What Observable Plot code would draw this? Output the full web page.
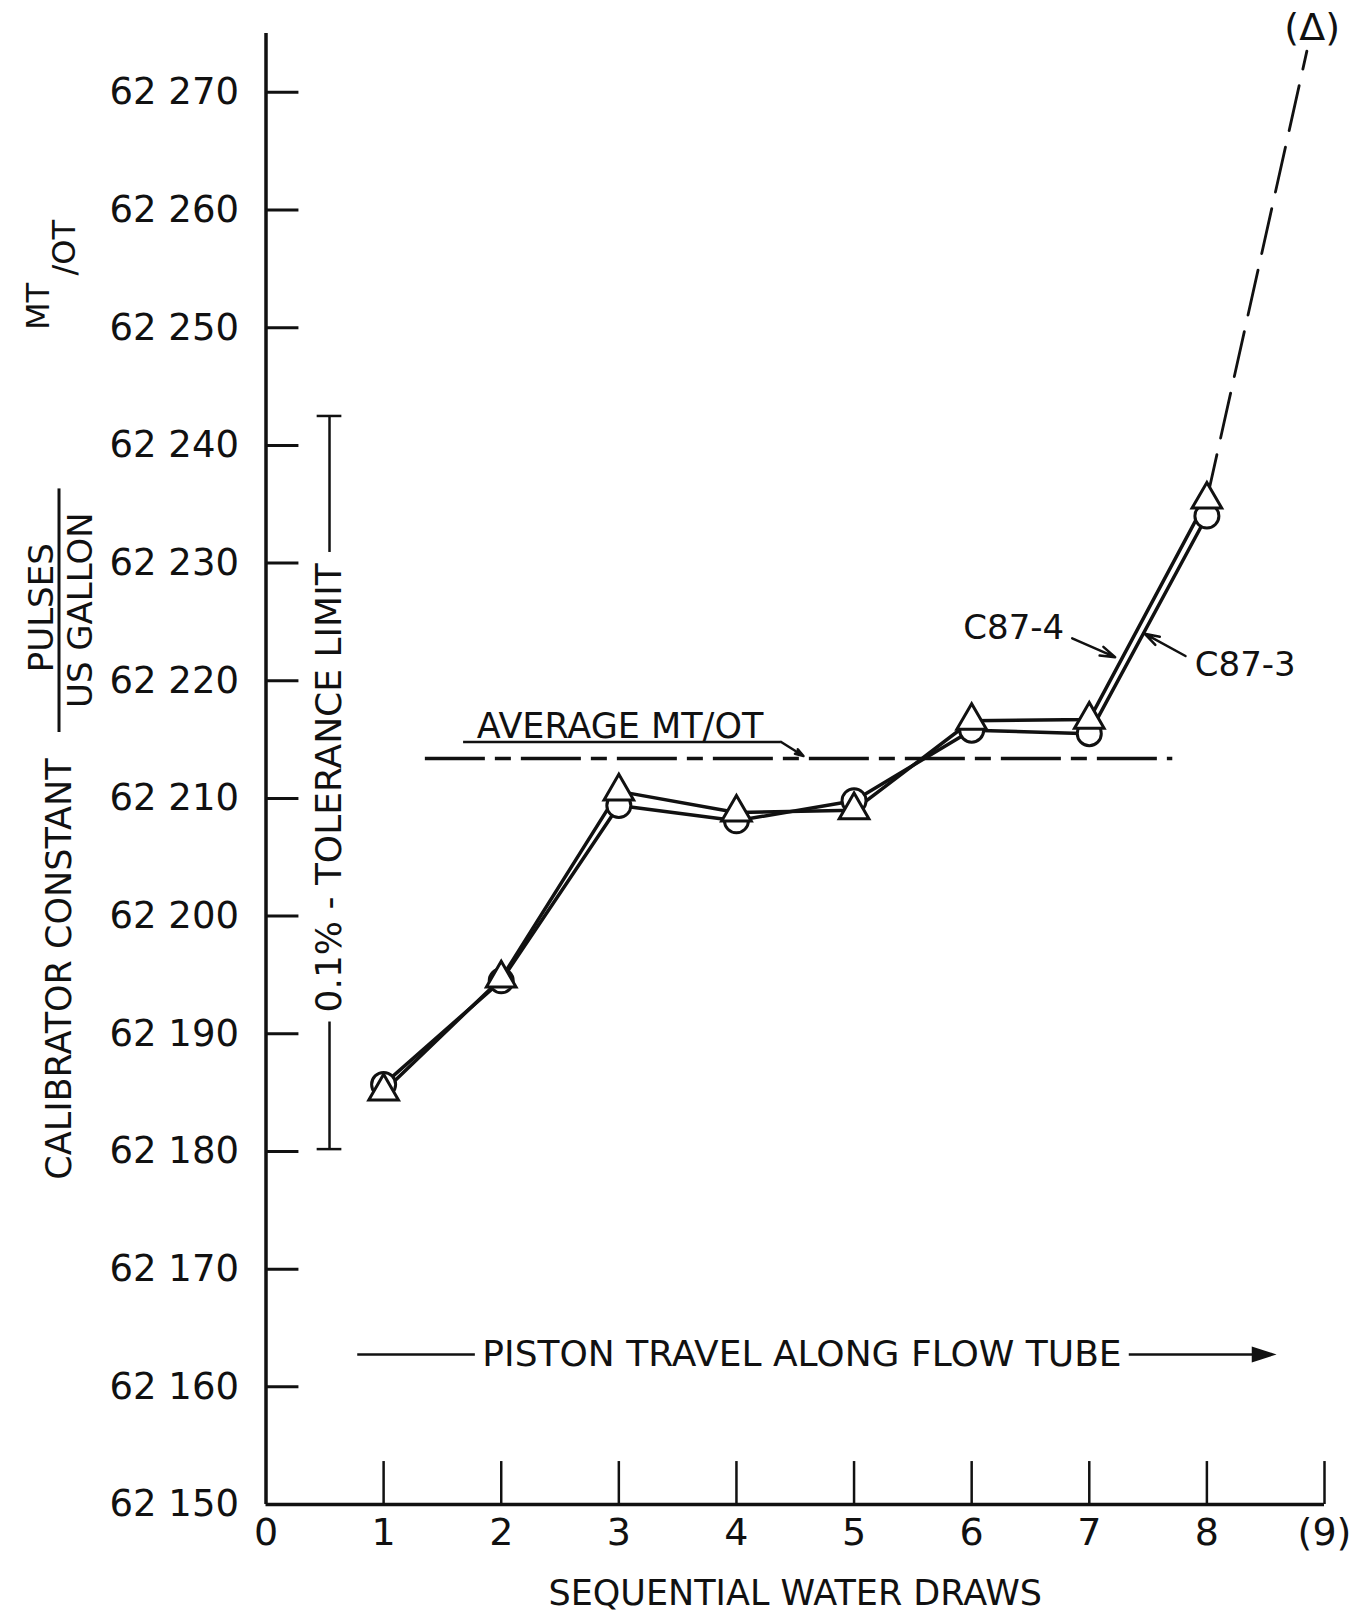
<!DOCTYPE html>
<html>
<head>
<meta charset="utf-8">
<script src="https://cdn.jsdelivr.net/npm/d3@7"></script>
<script src="https://cdn.jsdelivr.net/npm/@observablehq/plot@0.6"></script>
<style>
  html, body { margin: 0; padding: 0; background: #fff; }
  svg { display: block; }
</style>
</head>
<body>
<div id="chart"></div>
<script>
// ---- data ----
const draws = [1, 2, 3, 4, 5, 6, 7, 8];
// C87-3 (circles)
const c87_3 = [62185.7, 62194.5, 62209.4, 62208.1, 62209.8, 62215.8, 62215.5, 62234.0];
// C87-4 (triangles)
const c87_4 = [62185.1, 62194.7, 62210.6, 62208.8, 62209.0, 62216.6, 62216.7, 62235.4];
// dashed extrapolation of C87-4 toward draw (9)
const extX = [8, 8.85];
const extY = [62235.4, 62273.5];
const averageValue = 62213.4;
const toleranceRange = [62180.2, 62242.5];
const yTicks = [62150, 62160, 62170, 62180, 62190, 62200, 62210, 62220, 62230, 62240, 62250, 62260, 62270];
const yTickLabels = ["62 150", "62 160", "62 170", "62 180", "62 190", "62 200", "62 210", "62 220", "62 230", "62 240", "62 250", "62 260", "62 270"];
const xTicks = [0, 1, 2, 3, 4, 5, 6, 7, 8, 9];
const xTickLabels = ["0", "1", "2", "3", "4", "5", "6", "7", "8", "(9)"];

const tbl3 = draws.map((x, i) => ({x, y: c87_3[i]}));
const tbl4 = draws.map((x, i) => ({x, y: c87_4[i]}));
const extTbl = extX.map((x, i) => ({x, y: extY[i]}));

const font = "DejaVu Sans";
const rightHead = {
  draw(ctx, size) {
    const s = Math.sqrt(size);
    ctx.moveTo(0.7 * s, 0);
    ctx.lineTo(-0.7 * s, -0.45 * s);
    ctx.lineTo(-0.7 * s, 0.45 * s);
    ctx.closePath();
  }
};

const chart = Plot.plot({
  width: 1351,
  height: 1613,
  marginLeft: 265.5,
  marginRight: 27,
  marginTop: 33,
  marginBottom: 109,
  x: {domain: [0, 9]},
  y: {domain: [62150, 62275]},
  style: {fontFamily: font, fontSize: "34px", background: "#fff", color: "#111"},
  marks: [
    // axes lines
    Plot.ruleX([0], {y1: 62150, y2: 62275, strokeWidth: 3.5}),
    Plot.ruleY([62150], {x1: 0, x2: 9, strokeWidth: 3.5}),
    // inward ticks
    Plot.ruleY(yTicks.slice(1), {y: d => d, x1: 0, x2: 0.28, strokeWidth: 3}),
    Plot.ruleX(xTicks.slice(1), {x: d => d, y1: 62150, y2: 62153.65, strokeWidth: 2.5}),
    Plot.axisY(yTicks, {tickSize: 0, tickPadding: 27, fontSize: 37, label: null,
      tickFormat: d => yTickLabels[yTicks.indexOf(d)]}),
    Plot.axisX(xTicks, {tickSize: 0, tickPadding: 14, fontSize: 38, label: null,
      tickFormat: d => xTickLabels[xTicks.indexOf(d)]}),
    // axis titles
    Plot.text(["SEQUENTIAL WATER DRAWS"], {text: d => d, x: 4.5, y: 62142.4, fontSize: 35}),
    Plot.text(["CALIBRATOR CONSTANT"], {text: d => d, x: -1.75, y: 62195.5, rotate: -90, fontSize: 35}),
    Plot.text(["PULSES"], {text: d => d, x: -1.905, y: 62226.2, rotate: -90, fontSize: 34}),
    Plot.text(["US GALLON"], {text: d => d, x: -1.57, y: 62226.0, rotate: -90, fontSize: 34}),
    Plot.ruleX([-1.76], {y1: 62215.6, y2: 62236.3, strokeWidth: 3}),
    Plot.text(["MT"], {text: d => d, x: -1.93, y: 62251.8, rotate: -90, fontSize: 32}),
    Plot.text(["/OT"], {text: d => d, x: -1.715, y: 62256.8, rotate: -90, fontSize: 32}),
    // tolerance bar (line broken around its label)
    Plot.ruleX([0.54], {y1: 62230.9, y2: toleranceRange[1], strokeWidth: 2.5}),
    Plot.ruleX([0.54], {y1: toleranceRange[0], y2: 62191.0, strokeWidth: 2.5}),
    Plot.ruleY(toleranceRange, {y: d => d, x1: 0.435, x2: 0.645, strokeWidth: 2.5}),
    Plot.text(["0.1% - TOLERANCE LIMIT"], {text: d => d, x: 0.54, y: 62210.9, rotate: -90, fontSize: 36}),
    // average line
    Plot.ruleY([averageValue], {x1: 1.355, x2: 7.71, strokeWidth: 3.5, strokeDasharray: "60,10,16,10"}),
    Plot.text(["AVERAGE MT/OT"], {text: d => d, x: 3.01, y: 62216.1, fontSize: 35}),
    Plot.ruleY([62214.8], {x1: 1.68, x2: 4.38, strokeWidth: 2.5}),
    Plot.arrow([0], {x1: 4.38, y1: 62214.8, x2: 4.57, y2: 62213.6, strokeWidth: 2.5, headLength: 16, headAngle: 35}),
    // piston travel arrow (line broken around its label)
    Plot.ruleY([62162.75], {x1: 0.78, x2: 1.78, strokeWidth: 2.5}),
    Plot.ruleY([62162.75], {x1: 7.34, x2: 8.45, strokeWidth: 2.5}),
    Plot.dot([0], {x: 8.487, y: 62162.75, symbol: rightHead, r: 10, fill: "#111", stroke: null}),
    Plot.text(["PISTON TRAVEL ALONG FLOW TUBE"], {text: d => d, x: 4.557, y: 62162.75, fontSize: 36}),
    // dashed extrapolation
    Plot.line(extTbl, {x: "x", y: "y", strokeWidth: 2.8, strokeDasharray: "46,17"}),
    Plot.text(["(\u0394)"], {text: d => d, x: 8.895, y: 62275.5, fontSize: 38}),
    // series lines
    Plot.line(tbl3, {x: "x", y: "y", strokeWidth: 3.5}),
    Plot.line(tbl4, {x: "x", y: "y", strokeWidth: 3.5}),
    Plot.dot(tbl3, {x: "x", y: "y", r: 12, fill: "#fff", stroke: "#111", strokeWidth: 3}),
    Plot.dot(tbl4, {x: "x", y: "y", r: 11, symbol: "triangle", fill: "#fff", stroke: "#111", strokeWidth: 3}),
    // series labels
    Plot.text(["C87-4"], {text: d => d, x: 6.358, y: 62224.45, fontSize: 34}),
    Plot.arrow([0], {x1: 6.855, y1: 62223.6, x2: 7.22, y2: 62222.0, strokeWidth: 2.5, headLength: 16, headAngle: 35}),
    Plot.text(["C87-3"], {text: d => d, x: 8.326, y: 62221.3, fontSize: 34}),
    Plot.arrow([0], {x1: 7.818, y1: 62222.1, x2: 7.47, y2: 62224.0, strokeWidth: 2.5, headLength: 16, headAngle: 35})
  ]
});
document.getElementById("chart").appendChild(chart);
</script>
</body>
</html>
